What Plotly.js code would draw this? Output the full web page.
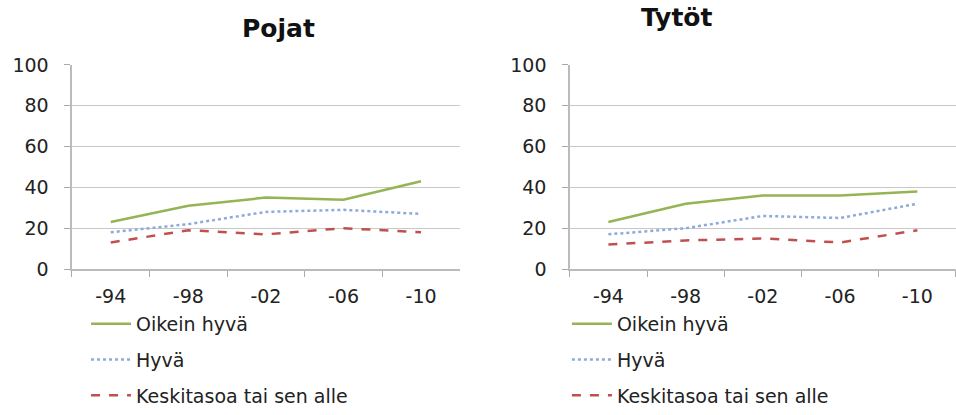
<!DOCTYPE html>
<html><head><meta charset="utf-8">
<script src="https://cdn.plot.ly/plotly-3.0.1.min.js"></script>
<style>body{margin:0;background:#fff}#c{width:956px;height:415px}</style>
</head><body><div id="c"></div>
<script>
const years = ["-94", "-98", "-02", "-06", "-10"];
const seriesNames = ["Oikein hyvä", "Hyvä", "Keskitasoa tai sen alle"];
const pojatOikeinHyva = [23, 31, 35, 34, 43];
const pojatHyva = [18, 22, 28, 29, 27];
const pojatKeskitaso = [13, 19, 17, 20, 18];
const tytotOikeinHyva = [23, 32, 36, 36, 38];
const tytotHyva = [17, 20, 26, 25, 32];
const tytotKeskitaso = [12, 14, 15, 13, 19];
const titles = ["Pojat", "Tytöt"];

const styles = [
  {color: "#94b455", width: 2.5, dash: "solid"},
  {color: "#8eaadb", width: 2.5, dash: "dot"},
  {color: "#c0504d", width: 2.5, dash: "dash"}
];
const font = "DejaVu Sans, sans-serif";
const groups = [[pojatOikeinHyva, pojatHyva, pojatKeskitaso], [tytotOikeinHyva, tytotHyva, tytotKeskitaso]];
const traces = [];
groups.forEach((g, gi) => {
  g.forEach((vals, si) => {
    traces.push({
      x: years, y: vals, type: "scatter", mode: "lines",
      name: seriesNames[si],
      legendgroup: "g" + gi + "_" + si,
      line: {color: styles[si].color, width: styles[si].width, dash: styles[si].dash},
      xaxis: gi === 0 ? "x" : "x2", yaxis: gi === 0 ? "y" : "y2",
      legend: gi === 0 ? "legend" : "legend2",
      hoverinfo: "skip"
    });
  });
});
function xa(domain, anchor) {
  return {domain: domain, anchor: anchor, type: "category", range: [-0.5, 4.5],
    tickson: "boundaries", ticks: "outside", ticklen: 6, tickcolor: "#aaa",
    showgrid: false, showline: true, linecolor: "#bbb", linewidth: 1.5,
    tickfont: {family: font, size: 19, color: "#222"}, ticklabelstandoff: 10, fixedrange: true, zeroline: false};
}
function ya(anchor) {
  return {domain: [0.3374, 0.840], anchor: anchor, range: [0, 100], tickvals: [0, 20, 40, 60, 80, 100],
    ticks: "outside", ticklen: 6, tickcolor: "#aaa", showline: true, linecolor: "#bbb", linewidth: 1.5,
    showgrid: true, gridcolor: "#c8c8c8", gridwidth: 1.2, zeroline: false,
    tickfont: {family: font, size: 19, color: "#222"}, ticklabelstandoff: 12, fixedrange: true};
}
const legendBase = {orientation: "v", traceorder: "grouped", tracegroupgap: 8,
  font: {family: font, size: 19, color: "#222"}, bgcolor: "rgba(0,0,0,0)",
  xanchor: "left", yanchor: "bottom", y: -0.022, itemwidth: 40};
const layout = {
  width: 956, height: 415, margin: {l: 0, r: 0, t: 0, b: 0},
  paper_bgcolor: "#fff", plot_bgcolor: "#fff", showlegend: true,
  xaxis: xa([0.0753, 0.481], "y"), yaxis: ya("x"),
  xaxis2: xa([0.596, 1.0], "y2"), yaxis2: ya("x2"),
  legend: Object.assign({}, legendBase, {x: 0.09}),
  legend2: Object.assign({}, legendBase, {x: 0.593}),
  annotations: [
    {text: "<b>" + titles[0] + "</b>", xref: "paper", yref: "paper", x: 0.251, y: 0.9286, showarrow: false,
     font: {family: font, size: 25, color: "#111"}, yanchor: "middle"},
    {text: "<b>" + titles[1] + "</b>", xref: "paper", yref: "paper", x: 0.748, y: 0.9557, showarrow: false,
     font: {family: font, size: 25, color: "#111"}, yanchor: "middle"}
  ]
};
Plotly.newPlot("c", traces, layout, {displayModeBar: false, staticPlot: true});
</script></body></html>
